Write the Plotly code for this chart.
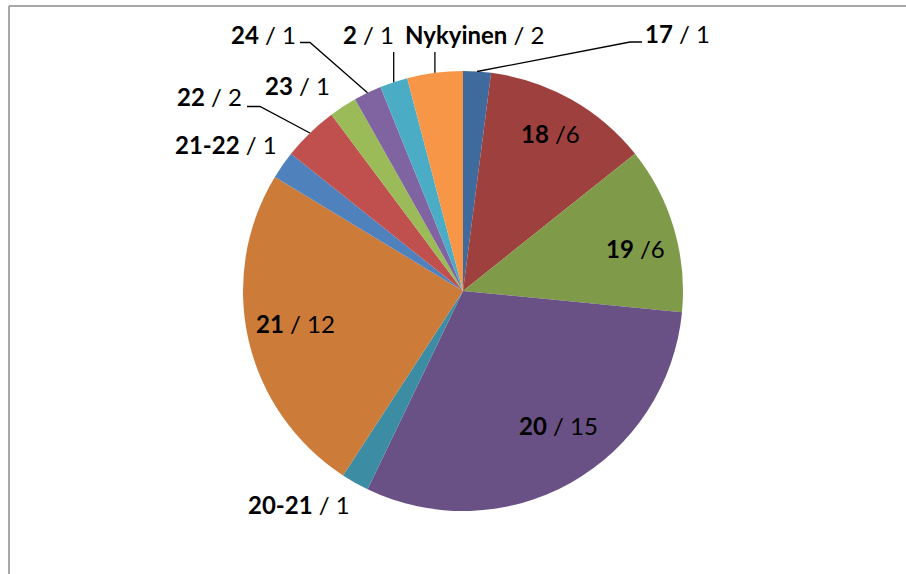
import math
import plotly.graph_objects as go

# ---- data ----
categories = ["17", "18", "19", "20", "20-21", "21", "21-22", "22", "23", "24", "2", "Nykyinen"]
counts = [1, 6, 6, 15, 1, 12, 1, 2, 1, 1, 1, 2]
separators = [" / ", " /", " /", " / ", " / ", " / ", " / ", " / ", " / ", " / ", " / ", " / "]
colors = ["#3F6A9D", "#9E413E", "#7F9A48", "#695185", "#3C8DA3", "#CC7B38",
          "#4F81BD", "#C0504D", "#9BBB59", "#8064A2", "#4BACC6", "#F79646"]

# ---- layout (pixels) ----
W, H = 906, 574
CX, CY, R = 463, 291, 220
FONT = "Lato"
FS = 24

# label centres (x, y) in pixels
label_pos = {
    "17": (677, 33), "18": (550, 133), "19": (635, 248), "20": (558, 425),
    "20-21": (299, 504), "21": (295, 323), "21-22": (226, 144), "22": (209, 96),
    "23": (297, 85), "24": (263, 34), "2": (368, 34), "Nykyinen": (474, 34),
}
# leader-line elbows: list of points after the pie-edge point
leaders = {
    "17": [(630, 42), (642, 42)],
    "Nykyinen": [("edge", 52)],
    "2": [("edge", 52)],
    "24": [(310, 42.5), (300, 42.5)],
    "22": [(260, 106.5), (247, 106.5)],
}

fig = go.Figure()
fig.add_trace(go.Pie(
    labels=categories, values=counts, sort=False, direction="clockwise", rotation=0,
    marker=dict(colors=colors, line=dict(width=0)),
    textinfo="none", hoverinfo="label+value", showlegend=False,
    domain=dict(x=[(CX - R) / W, (CX + R) / W], y=[1 - (CY + R) / H, 1 - (CY - R) / H]),
))

total = sum(counts)
cum = 0
shapes = []
annotations = []
for cat, v, sep in zip(categories, counts, separators):
    mid = (cum + v / 2) / total * 2 * math.pi
    cum += v
    ex, ey = CX + R * math.sin(mid), CY - R * math.cos(mid)
    if cat in leaders:
        pts = [(ex, ey)]
        for px, py in leaders[cat]:
            pts.append((ex if px == "edge" else px, py))
        path = "M " + " L ".join(f"{x:.1f},{y:.1f}" for x, y in pts)
        shapes.append(dict(type="path", path=path, xref="x", yref="y",
                           line=dict(color="black", width=1.3), layer="above"))
    lx, ly = label_pos[cat]
    annotations.append(dict(x=lx, y=ly, xref="x", yref="y", showarrow=False,
                            text=f"<b>{cat}</b>{sep}{v}", xanchor="center", yanchor="middle",
                            font=dict(family=FONT, size=FS, color="black")))

# chart frame
shapes.append(dict(type="line", xref="x", yref="y", x0=9, y0=6, x1=906, y1=6,
                   line=dict(color="#8A8A8A", width=1.5)))
shapes.append(dict(type="line", xref="x", yref="y", x0=9, y0=6, x1=9, y1=574,
                   line=dict(color="#8A8A8A", width=1.5)))

fig.update_layout(
    width=W, height=H, margin=dict(l=0, r=0, t=0, b=0),
    paper_bgcolor="white", plot_bgcolor="white",
    xaxis=dict(range=[0, W], visible=False, fixedrange=True, domain=[0, 1]),
    yaxis=dict(range=[H, 0], visible=False, fixedrange=True, domain=[0, 1]),
    shapes=shapes, annotations=annotations,
)
fig.write_html("out.html", config={"displayModeBar": False},
               post_script="document.body.style.margin='0';document.body.style.overflow='hidden';")
